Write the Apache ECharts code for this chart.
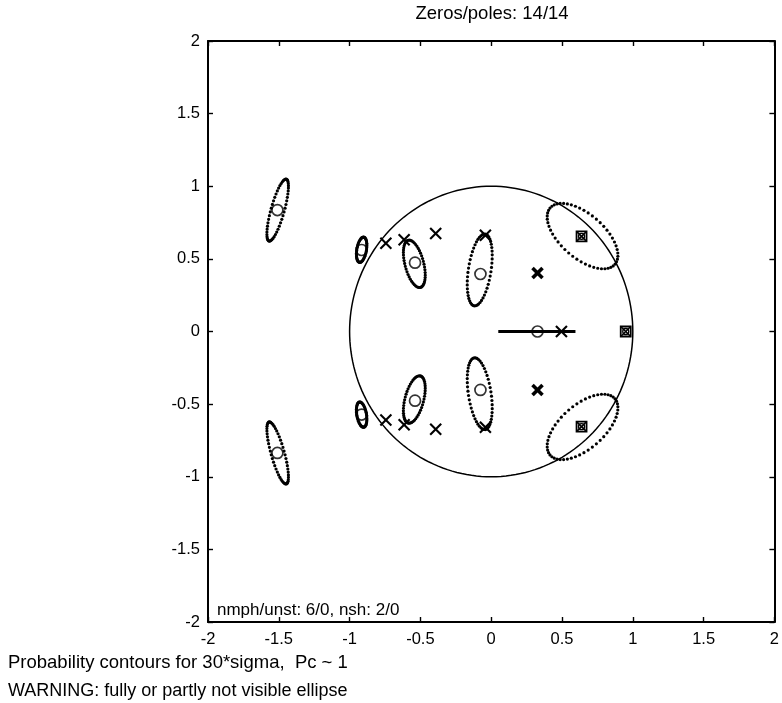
<!DOCTYPE html>
<html>
<head>
<meta charset="utf-8">
<script src="https://cdn.jsdelivr.net/npm/echarts@6/dist/echarts.min.js"></script>
<style>
  html, body { margin: 0; padding: 0; background: #fff; }
  #chart { width: 782px; height: 703px; }
</style>
</head>
<body>
<div id="chart"></div>
<script>
  // zeros (o)
  const zeros = [
    [-1.51, 0.836], [-1.51, -0.836],
    [-0.915, 0.561], [-0.915, -0.572],
    [-0.538, 0.474], [-0.538, -0.476],
    [-0.076, 0.396], [-0.076, -0.402],
    [0.327, 0],
  ];
  // poles (x)
  const poles = [
    [-0.744, 0.607], [-0.744, -0.609],
    [-0.615, 0.632], [-0.615, -0.642],
    [-0.392, 0.674], [-0.392, -0.673],
    [-0.041, 0.662], [-0.041, -0.66],
    [0.496, 0],
  ];
  // poles drawn heavier (overlapping pairs)
  const strongPoles = [[0.327, 0.403], [0.327, -0.403]];
  // zero/pole pairs marked with a box
  const boxedPairs = [[0.638, 0.655], [0.638, -0.655], [0.95, 0]];
  // contour ellipses: centre x, centre y, semi-major, semi-minor, angle (deg)
  const ellipseCx = [-1.508, -1.508, -0.915, -0.915, -0.543, -0.543, -0.081, -0.081, 0.645, 0.645];
  const ellipseCy = [0.836, -0.836, 0.563, -0.572, 0.466, -0.468, 0.424, -0.428, 0.657, -0.657];
  const ellipseA = [0.222, 0.222, 0.088, 0.088, 0.168, 0.168, 0.25, 0.25, 0.30, 0.30];
  const ellipseB = [0.047, 0.047, 0.034, 0.034, 0.066, 0.066, 0.08, 0.08, 0.152, 0.152];
  const ellipseAngle = [74, -74, 80, -80, 105, -105, 81, -81, -40, 40];
  // contour collapsed on the real axis
  const realSegment = [[0.05, 0], [0.595, 0]];
  const unitCircle = [[0, 0, 1]];

  const FONT = '"Liberation Sans", Arial, sans-serif';
  const DOTS = 52;

  const chart = echarts.init(document.getElementById('chart'), null, { renderer: 'canvas' });

  function renderEllipse(params, api) {
    const cx = api.value(0);
    const cy = api.value(1);
    const a = api.value(2);
    const b = api.value(3);
    const ang = api.value(4) * Math.PI / 180;
    const children = [];
    for (let i = 0; i < DOTS; i += 1) {
      const t = 2 * Math.PI * i / DOTS;
      const ex = a * Math.cos(t);
      const ey = b * Math.sin(t);
      const p = api.coord([
        cx + ex * Math.cos(ang) - ey * Math.sin(ang),
        cy + ex * Math.sin(ang) + ey * Math.cos(ang),
      ]);
      children.push({ type: 'circle', shape: { cx: p[0], cy: p[1], r: 1.6 }, style: { fill: '#000' } });
    }
    return { type: 'group', children };
  }

  function renderCircle(params, api) {
    const r = api.value(2);
    const points = [];
    for (let i = 0; i <= 180; i += 1) {
      const t = 2 * Math.PI * i / 180;
      points.push(api.coord([api.value(0) + r * Math.cos(t), api.value(1) + r * Math.sin(t)]));
    }
    return { type: 'polyline', shape: { points }, style: { stroke: '#000', lineWidth: 1.5, fill: null } };
  }

  function crossShape(p, h, width) {
    return [
      { type: 'line', shape: { x1: p[0] - h, y1: p[1] - h, x2: p[0] + h, y2: p[1] + h }, style: { stroke: '#000', lineWidth: width } },
      { type: 'line', shape: { x1: p[0] - h, y1: p[1] + h, x2: p[0] + h, y2: p[1] - h }, style: { stroke: '#000', lineWidth: width } },
    ];
  }

  function renderPole(params, api) {
    const p = api.coord([api.value(0), api.value(1)]);
    return { type: 'group', children: crossShape(p, 5.5, 2.1) };
  }

  function renderStrongPole(params, api) {
    const p = api.coord([api.value(0), api.value(1)]);
    return { type: 'group', children: crossShape(p, 5, 3.6) };
  }

  function renderBoxed(params, api) {
    const p = api.coord([api.value(0), api.value(1)]);
    return {
      type: 'group',
      children: [
        { type: 'rect', shape: { x: p[0] - 5, y: p[1] - 5, width: 10, height: 10 }, style: { stroke: '#000', lineWidth: 1.8, fill: null } },
        { type: 'circle', shape: { cx: p[0], cy: p[1], r: 3 }, style: { stroke: '#000', lineWidth: 1.3, fill: null } },
      ].concat(crossShape(p, 4.5, 1.5)),
    };
  }

  const ellipseData = ellipseCx.map((cx, i) => [cx, ellipseCy[i], ellipseA[i], ellipseB[i], ellipseAngle[i]]);

  const axisCommon = {
    type: 'value',
    min: -2,
    max: 2,
    interval: 0.5,
    splitLine: { show: false },
    axisLine: { show: true, onZero: false, lineStyle: { color: '#000', width: 2 } },
    axisTick: { show: true, inside: true, length: 5, lineStyle: { color: '#000', width: 1.4 } },
  };
  const labelStyle = { color: '#000', fontSize: 16.5, fontFamily: FONT, formatter: (v) => String(v) };

  chart.setOption({
    animation: false,
    backgroundColor: '#fff',
    grid: { left: 208, right: 5, top: 41, bottom: 81, containLabel: false },
    xAxis: [
      Object.assign({}, axisCommon, { position: 'bottom', axisLabel: Object.assign({ margin: 9 }, labelStyle) }),
      Object.assign({}, axisCommon, { position: 'top', axisLabel: { show: false } }),
    ],
    yAxis: [
      Object.assign({}, axisCommon, { position: 'left', axisLabel: Object.assign({ margin: 8 }, labelStyle) }),
      Object.assign({}, axisCommon, { position: 'right', axisLabel: { show: false } }),
    ],
    series: [
      { type: 'custom', renderItem: renderCircle, data: unitCircle, encode: { x: 0, y: 1 }, silent: true },
      { type: 'custom', renderItem: renderEllipse, data: ellipseData, encode: { x: 0, y: 1 }, silent: true },
      {
        type: 'line', data: realSegment, symbol: 'none', silent: true,
        lineStyle: { color: '#000', width: 2.8 },
      },
      {
        type: 'scatter', data: zeros, symbol: 'circle', symbolSize: 11, silent: true,
        itemStyle: { color: 'rgba(255,255,255,0)', borderColor: '#000', borderWidth: 1.7 },
      },
      { type: 'custom', renderItem: renderPole, data: poles, encode: { x: 0, y: 1 }, silent: true },
      { type: 'custom', renderItem: renderStrongPole, data: strongPoles, encode: { x: 0, y: 1 }, silent: true },
      { type: 'custom', renderItem: renderBoxed, data: boxedPairs, encode: { x: 0, y: 1 }, silent: true },
    ],
    graphic: [
      {
        type: 'text', x: 492, y: 14,
        style: { text: 'Zeros/poles: 14/14', font: '18.5px ' + FONT, fill: '#000', textAlign: 'center', align: 'center', textVerticalAlign: 'middle', verticalAlign: 'middle' },
      },
      {
        type: 'text', x: 217, y: 610,
        style: { text: 'nmph/unst: 6/0, nsh: 2/0', font: '17px ' + FONT, fill: '#000', textVerticalAlign: 'middle', verticalAlign: 'middle' },
      },
      {
        type: 'text', x: 8, y: 663,
        style: { text: 'Probability contours for 30*sigma,  Pc ~ 1', font: '18.5px ' + FONT, fill: '#000', textVerticalAlign: 'middle', verticalAlign: 'middle' },
      },
      {
        type: 'text', x: 8, y: 691,
        style: { text: 'WARNING: fully or partly not visible ellipse', font: '18px ' + FONT, fill: '#000', textVerticalAlign: 'middle', verticalAlign: 'middle' },
      },
    ],
  });
</script>
</body>
</html>
